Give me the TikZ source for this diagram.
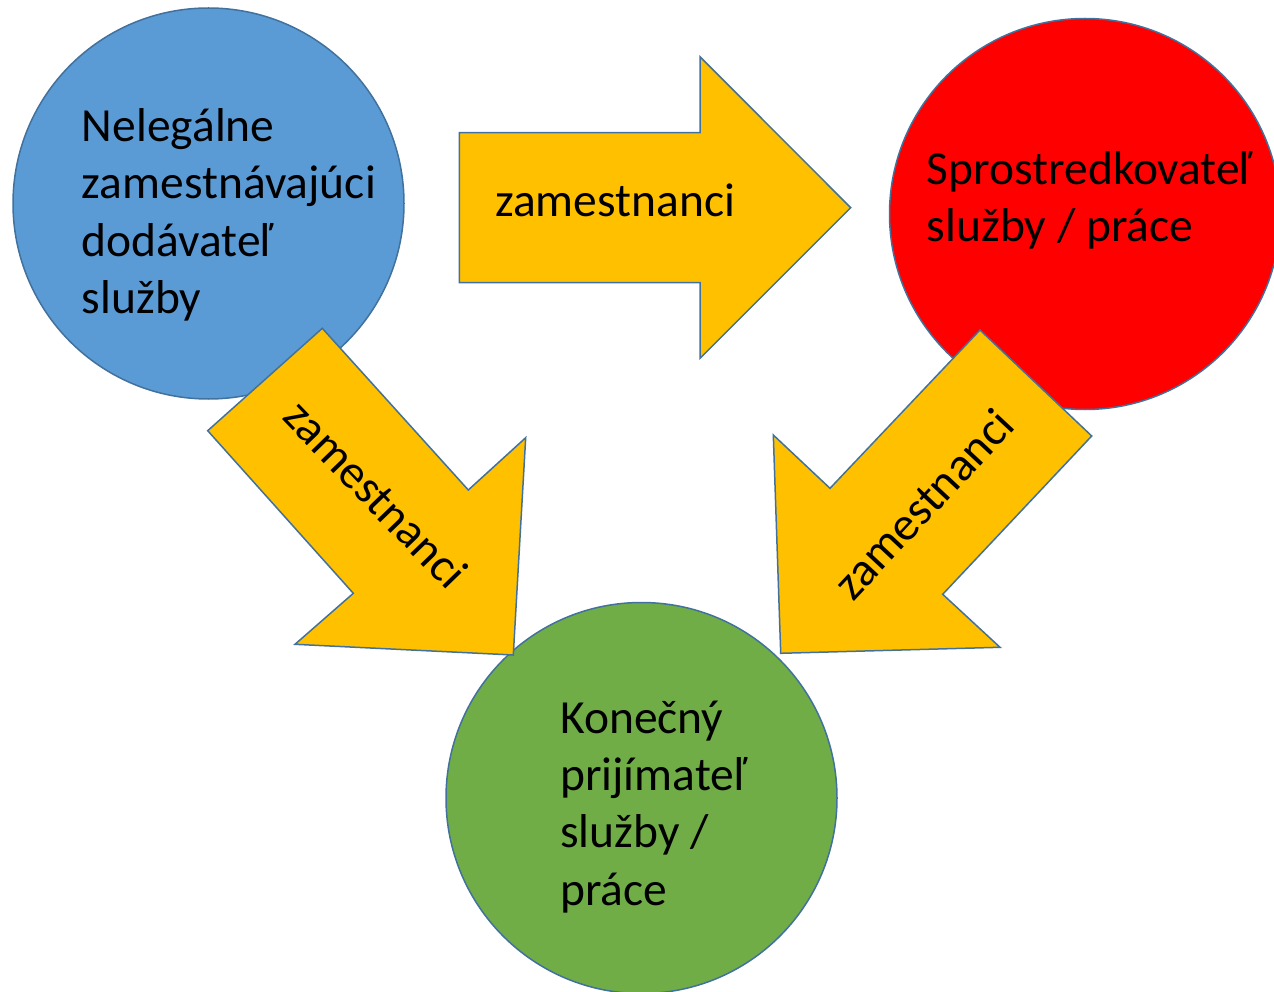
\documentclass[tikz,border=0pt]{standalone}
\usepackage{fontspec}
\setmainfont{Carlito}
\definecolor{cblue}{HTML}{5B9BD5}
\definecolor{cred}{HTML}{FF0000}
\definecolor{cgreen}{HTML}{70AD47}
\definecolor{corange}{HTML}{FFC000}
\definecolor{cline}{HTML}{41719C}
\begin{document}
\begin{tikzpicture}[x=1pt,y=-1pt,
  circ/.style={circle, draw=cline, line width=1.5pt, minimum size=391pt, inner sep=0pt},
  arrowshape/.style={draw=cline, fill=corange, line width=1.5pt, line join=miter},
  lbl/.style={font=\fontsize{47.5}{57.3}\selectfont, inner sep=0pt, text=black},
  multi/.style={lbl, align=left, anchor=base west}]
\useasboundingbox (0,0) rectangle (1274,992);
% circles
\node[circ, fill=cblue]  (blue)  at (208.5,203.5) {};
\node[circ, fill=cred]   (red)   at (1085,214) {};
\node[circ, fill=cgreen] (green) at (641.5,798) {};
% arrows
\draw[arrowshape] (459.3,132.7) -- (700,132.7) -- (700,56.7) -- (850.7,207.7)
  -- (700,358.3) -- (700,282.7) -- (459.3,282.7) -- cycle;
\draw[arrowshape] (322.3,328.3) -- (468.3,490) -- (525.7,437.7) -- (513.3,655)
  -- (295,644.3) -- (353.3,593.3) -- (207.7,430.7) -- cycle;
\draw[arrowshape] (980,330) -- (1091.7,436) -- (942.7,594.3) -- (1000,647.3)
  -- (780.7,653.3) -- (773.3,435) -- (830,488.3) -- cycle;
% texts (base anchor = baseline of the last line)
\node[multi] (tblue) at (81.7,313.5) {Nelegálne\\zamestnávajúci\\dodávateľ\\služby};
\node[multi] (tred) at (926.7,241.7) {Sprostredkovateľ\\služby / práce};
\node[multi] (tgreen) at (560,905) {Konečný\\prijímateľ\\služby /\\práce};
\node[lbl, anchor=base west] (a1) at (495,216.7) {zamestnanci};
\node[lbl, rotate=-46] (a2) at (376,494) {zamestnanci};
\node[lbl, rotate=47] (a3) at (923,504) {zamestnanci};
\end{tikzpicture}
\end{document}
